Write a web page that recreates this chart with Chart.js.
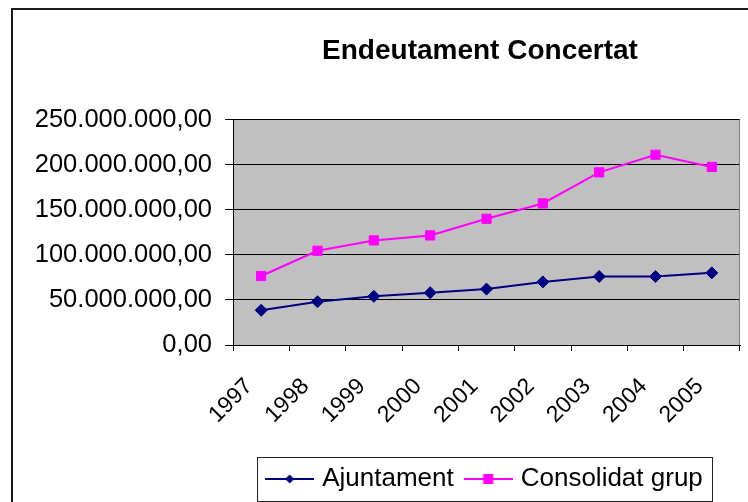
<!DOCTYPE html>
<html>
<head>
<meta charset="utf-8">
<script src="https://cdn.jsdelivr.net/npm/chart.js@4/dist/chart.umd.min.js"></script>
<style>
html,body{margin:0;padding:0;background:#fff;}
canvas{display:block;}
</style>
</head>
<body>
<canvas id="c" width="748" height="502"></canvas>
<script>
// ---- data ----
const years = ['1997', '1998', '1999', '2000', '2001', '2002', '2003', '2004', '2005'];
const ajuntament = [38500000, 48000000, 54000000, 58000000, 62000000, 70000000, 76000000, 76000000, 80000000];
const consolidatGrup = [76500000, 104500000, 116000000, 121500000, 140000000, 157000000, 191500000, 211000000, 197500000];
const yTickValues = [0, 50000000, 100000000, 150000000, 200000000, 250000000];
const seriesNames = ['Ajuntament', 'Consolidat grup'];
const chartTitle = 'Endeutament Concertat';

const FONT = "'Liberation Sans', Arial, sans-serif";
const NAVY = '#000080';
const MAGENTA = '#FF00FF';

function fmt(v) {
  return Math.round(v).toString().replace(/\B(?=(\d{3})+(?!\d))/g, '.') + ',00';
}

function legendIcon(color, shape) {
  const c = document.createElement('canvas');
  c.width = 49; c.height = 16;
  const g = c.getContext('2d');
  g.strokeStyle = color; g.lineWidth = 2;
  g.beginPath(); g.moveTo(0, 8); g.lineTo(49, 8); g.stroke();
  g.fillStyle = color;
  g.beginPath();
  if (shape === 'diamond') {
    g.moveTo(24.5, 3.5); g.lineTo(29, 8); g.lineTo(24.5, 12.5); g.lineTo(20, 8); g.closePath();
  } else {
    g.rect(19.5, 3, 10, 10);
  }
  g.fill();
  return c;
}
const icons = [legendIcon(NAVY, 'diamond'), legendIcon(MAGENTA, 'square')];

const framePlugin = {
  id: 'frame',
  afterLayout(chart) {
    // centre title slightly left, like the original
    if (chart.titleBlock) { chart.titleBlock.left -= 13; }
  },
  beforeDraw(chart) {
    const ctx = chart.ctx, a = chart.chartArea;
    ctx.save();
    ctx.fillStyle = '#fff';
    ctx.fillRect(0, 0, chart.width, chart.height);
    ctx.strokeStyle = '#1a1a1a';
    ctx.lineWidth = 2;
    ctx.strokeRect(12, 9, chart.width + 40, chart.height + 40);
    ctx.fillStyle = '#C0C0C0';
    ctx.fillRect(a.left, a.top, a.right - a.left, a.bottom - a.top);
    ctx.restore();
  },
  beforeDatasetsDraw(chart) {
    const ctx = chart.ctx, a = chart.chartArea;
    ctx.save();
    ctx.strokeStyle = '#808080';
    ctx.lineWidth = 1;
    ctx.beginPath();
    ctx.moveTo(Math.round(a.right) - 0.5, a.top);
    ctx.lineTo(Math.round(a.right) - 0.5, a.bottom);
    ctx.stroke();
    ctx.restore();
  },
  afterDraw(chart) {
    const lg = chart.legend;
    if (!lg || !lg.legendHitBoxes || !lg.legendHitBoxes.length) return;
    const hb = lg.legendHitBoxes;
    const first = hb[0], last = hb[hb.length - 1];
    const left = first.left - 5 - 8.5;
    const right = last.left + last.width + 8.5;
    const cy = first.top + first.height / 2;
    const ctx = chart.ctx;
    ctx.save();
    ctx.strokeStyle = '#222';
    ctx.lineWidth = 1;
    ctx.strokeRect(Math.round(left) + 0.5, Math.round(cy - 22) + 0.5, Math.round(right - left), 44);
    ctx.restore();
  }
};

new Chart(document.getElementById('c'), {
  type: 'line',
  data: {
    labels: years,
    datasets: [
      {
        label: seriesNames[0],
        data: ajuntament,
        borderColor: NAVY,
        backgroundColor: NAVY,
        borderWidth: 2,
        pointStyle: 'rectRot',
        pointRadius: 6,
        pointBorderWidth: 1,
        pointBackgroundColor: NAVY,
        pointBorderColor: NAVY,
        tension: 0
      },
      {
        label: seriesNames[1],
        data: consolidatGrup,
        borderColor: MAGENTA,
        backgroundColor: MAGENTA,
        borderWidth: 2,
        pointStyle: 'rect',
        pointRadius: 6.5,
        pointBorderWidth: 1,
        pointBackgroundColor: MAGENTA,
        pointBorderColor: MAGENTA,
        tension: 0
      }
    ]
  },
  options: {
    responsive: false,
    devicePixelRatio: 1,
    animation: false,
    events: [],
    layout: { padding: { left: 0, right: 8, top: 0, bottom: 0 } },
    plugins: {
      tooltip: { enabled: false },
      title: {
        display: true,
        text: chartTitle,
        fullSize: false,
        color: '#000',
        font: { family: FONT, size: 28, weight: 'bold', lineHeight: 1.2 },
        padding: { top: 34, bottom: 52 }
      },
      legend: {
        display: true,
        position: 'bottom',
        fullSize: false,
        labels: {
          color: '#000',
          font: { family: FONT, size: 26 },
          usePointStyle: true,
          pointStyleWidth: 39,
          padding: 15,
          generateLabels(chart) {
            return chart.data.datasets.map((ds, i) => ({
              text: ds.label,
              fillStyle: ds.borderColor,
              strokeStyle: ds.borderColor,
              lineWidth: 0,
              pointStyle: icons[i],
              hidden: false,
              datasetIndex: i,
              fontColor: '#000'
            }));
          }
        }
      }
    },
    scales: {
      x: {
        type: 'category',
        offset: true,
        grid: {
          offset: true,
          drawOnChartArea: false,
          drawTicks: true,
          tickLength: 6,
          color: '#000',
          lineWidth: 1
        },
        border: { display: true, color: '#000', width: 1 },
        ticks: {
          color: '#000',
          font: { family: FONT, size: 23 },
          minRotation: 45,
          maxRotation: 45,
          autoSkip: false,
          padding: 22,
          labelOffset: -12
        },
        afterFit(scale) {
          scale.height = 106;
          scale.paddingRight = 0;
          scale.paddingLeft = 0;
        }
      },
      y: {
        min: 0,
        max: 250000000,
        afterBuildTicks(scale) { scale.ticks = yTickValues.map(v => ({ value: v })); },
        grid: {
          drawOnChartArea: true,
          drawTicks: true,
          tickLength: 8,
          color: '#000',
          lineWidth: 1
        },
        border: { display: true, color: '#000', width: 1 },
        ticks: {
          color: '#000',
          font: { family: FONT, size: 25.5 },
          padding: 13,
          callback: (v) => fmt(v)
        },
        afterFit(scale) { scale.width = 233; }
      }
    }
  },
  plugins: [framePlugin]
});
</script>
</body>
</html>
